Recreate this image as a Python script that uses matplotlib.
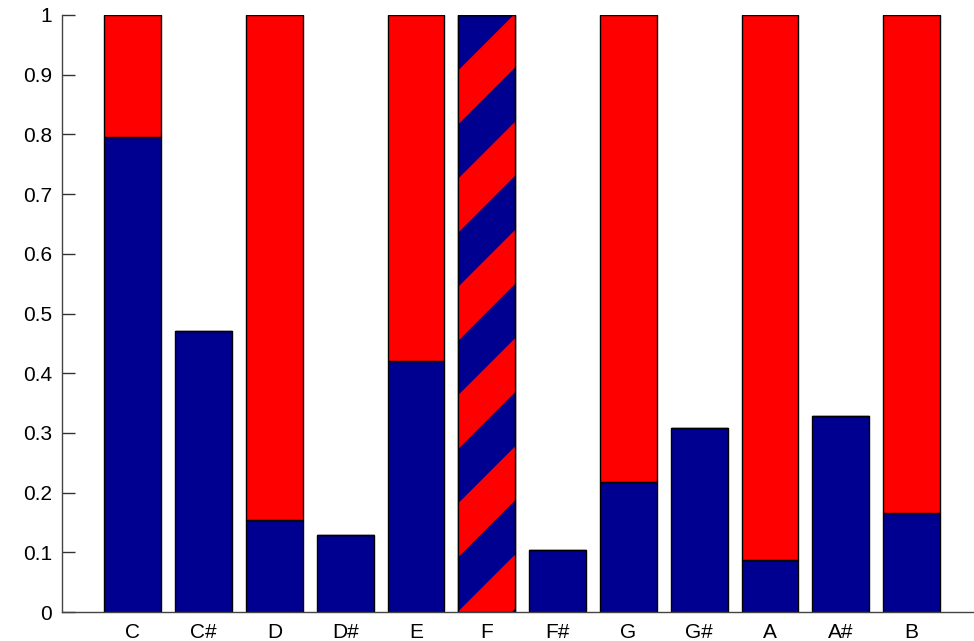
import matplotlib
matplotlib.use("Agg")
import matplotlib.pyplot as plt
from matplotlib.patches import Polygon, Rectangle

notes = ["C", "C#", "D", "D#", "E", "F", "F#", "G", "G#", "A", "A#", "B"]
blue_vals = [0.796, 0.471, 0.154, 0.129, 0.420, 1.0, 0.104, 0.218, 0.308, 0.087, 0.328, 0.166]
red_vals = [0.204, 0.0, 0.846, 0.0, 0.580, 0.0, 0.0, 0.782, 0.0, 0.913, 0.0, 0.834]
striped = ["F"]
yticks = [0, 0.1, 0.2, 0.3, 0.4, 0.5, 0.6, 0.7, 0.8, 0.9, 1.0]
ytick_labels = ["0", "0.1", "0.2", "0.3", "0.4", "0.5", "0.6", "0.7", "0.8", "0.9", "1"]

BLUE = "#000090"
RED = "#ff0000"

plt.rcParams["font.family"] = ["Liberation Sans", "DejaVu Sans"]

W, H = 974, 641
fig = plt.figure(figsize=(W / 100, H / 100), dpi=100)
ax = fig.add_axes([62 / W, 29 / H, 912 / W, 597 / H])

x = list(range(1, len(notes) + 1))
width = 0.8
ax.bar(x, blue_vals, width=width, color=BLUE, edgecolor="black", linewidth=1.0, zorder=2)
ax.bar(x, red_vals, width=width, bottom=blue_vals, color=RED, edgecolor="black", linewidth=1.0, zorder=2)

ax.set_xlim(0, 912 / 70.8)
ax.set_ylim(0, 1)

# diagonal stripes for mixed bars (45 degrees on screen)
(px0, py0), (px1, py1) = ax.transData.transform([(0, 0), (1, 1)])
kx = px1 - px0
ky = py1 - py0
period = 108.2 / ky
red_len = 54.0 / ky
top0 = 109.0 / ky
for i, n in enumerate(notes):
    if n not in striped:
        continue
    xc = x[i]
    xa, xb = xc - width / 2, xc + width / 2
    clip = Rectangle((xa, 0), width, blue_vals[i], transform=ax.transData)
    s = (xb - xa) * kx / ky
    k = -3
    while top0 - red_len + k * period < blue_vals[i] + 0.2:
        b = top0 + k * period
        a = b - red_len
        poly = Polygon([(xa, a), (xa, b), (xb, b + s), (xb, a + s)], closed=True,
                       facecolor=RED, edgecolor="none", zorder=2.5)
        ax.add_patch(poly)
        poly.set_clip_path(clip)
        k += 1
    ax.add_patch(Rectangle((xa, 0), width, blue_vals[i], facecolor="none",
                           edgecolor="black", linewidth=1.0, zorder=3))

ax.set_xticks(x)
ax.set_xticklabels(notes)
ax.set_yticks(yticks)
ax.set_yticklabels(ytick_labels)
ax.tick_params(axis="x", length=0, pad=8, labelsize=15)
ax.tick_params(axis="y", direction="in", length=9, width=1, pad=7, labelsize=15, color="#333333")

for side in ["top", "right"]:
    ax.spines[side].set_visible(False)
for side in ["left", "bottom"]:
    ax.spines[side].set_color("#444444")
    ax.spines[side].set_linewidth(1.0)
    ax.spines[side].set_zorder(4)

fig.savefig("out.png", dpi=100)
